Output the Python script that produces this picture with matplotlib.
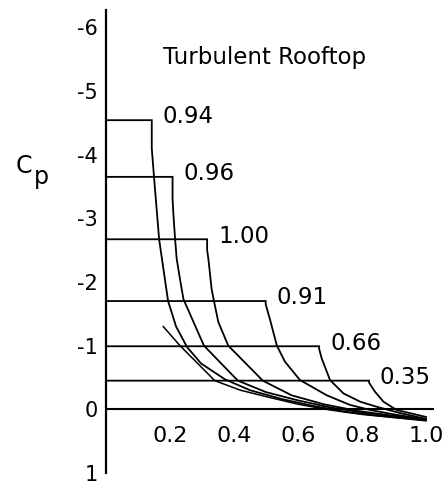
import matplotlib
matplotlib.use("Agg")
import matplotlib.pyplot as plt

# Rooftop pressure distributions (x/c, Cp)
labels = ["0.94", "0.96", "1.00", "0.91", "0.66", "0.35"]

x_094 = [0.0, 0.143, 0.143, 0.150, 0.166, 0.194, 0.219, 0.253, 0.297, 0.372, 0.45, 0.55, 0.65, 0.75, 0.85, 1.0]
cp_094 = [-4.54, -4.54, -4.10, -3.65, -2.67, -1.70, -1.30, -0.98, -0.72, -0.47, -0.30, -0.16, -0.05, 0.04, 0.10, 0.17]

x_096 = [0.0, 0.208, 0.208, 0.211, 0.216, 0.221, 0.231, 0.242, 0.306, 0.412, 0.50, 0.60, 0.70, 0.80, 0.90, 1.0]
cp_096 = [-3.65, -3.65, -3.30, -3.03, -2.67, -2.36, -2.05, -1.73, -1.00, -0.45, -0.27, -0.14, -0.03, 0.05, 0.11, 0.17]

x_100 = [0.0, 0.316, 0.316, 0.320, 0.330, 0.337, 0.351, 0.382, 0.49, 0.58, 0.68, 0.78, 0.88, 1.0]
cp_100 = [-2.67, -2.67, -2.50, -2.36, -1.89, -1.71, -1.37, -1.00, -0.45, -0.22, -0.08, 0.02, 0.09, 0.16]

x_091 = [0.0, 0.499, 0.499, 0.512, 0.534, 0.559, 0.606, 0.690, 0.762, 0.825, 0.90, 1.0]
cp_091 = [-1.70, -1.70, -1.65, -1.42, -1.00, -0.75, -0.46, -0.22, -0.07, 0.01, 0.08, 0.16]

x_066 = [0.0, 0.666, 0.666, 0.674, 0.700, 0.742, 0.794, 0.846, 0.92, 1.0]
cp_066 = [-0.99, -0.99, -0.95, -0.80, -0.46, -0.25, -0.12, -0.04, 0.06, 0.15]

x_035 = [0.0, 0.822, 0.822, 0.840, 0.867, 0.908, 0.95, 1.0]
cp_035 = [-0.45, -0.45, -0.42, -0.28, -0.12, 0.01, 0.06, 0.12]

# recovery-only curve (no rooftop drawn)
x_extra = [0.179, 0.231, 0.34, 0.42, 0.50, 0.60, 0.70, 0.80, 0.90, 1.0]
cp_extra = [-1.30, -1.00, -0.45, -0.30, -0.20, -0.08, 0.01, 0.08, 0.13, 0.18]

curves = [(x_094, cp_094), (x_096, cp_096), (x_100, cp_100),
          (x_091, cp_091), (x_066, cp_066), (x_035, cp_035)]

ytick_vals = [-6, -5, -4, -3, -2, -1, 0, 1]
xtick_vals = [0.2, 0.4, 0.6, 0.8, 1.0]

plt.rcParams["font.family"] = "DejaVu Sans"

fig = plt.figure(figsize=(4.45, 4.84), dpi=100)
ax = fig.add_axes([106 / 445, 11 / 484, 339 / 445, 463 / 484])
ax.set_xlim(0, 339 / 320)
ax.set_ylim(1.0, -6.27)

for side in ["top", "right", "bottom"]:
    ax.spines[side].set_visible(False)
ax.spines["left"].set_linewidth(1.6)
ax.set_xticks([])
ax.set_yticks(ytick_vals)
ax.set_yticklabels([str(v) for v in ytick_vals], fontsize=15)
ax.tick_params(axis="y", length=0, pad=6)

# zero line
ax.plot([0, 1.022], [0, 0], color="black", lw=1.5)

for (xs, cs), lab in zip(curves, labels):
    ax.plot(xs, cs, color="black", lw=1.3, solid_joinstyle="miter")
    ax.text(xs[1] + 0.034, cs[0] - 0.05, lab, fontsize=16.5, ha="left", va="center")
ax.plot(x_extra, cp_extra, color="black", lw=1.1)

for xv in xtick_vals:
    ax.text(xv, 0.42, f"{xv:.1f}", fontsize=16, ha="center", va="center")

ax.text(0.178, -5.53, "Turbulent Rooftop", fontsize=16.5, ha="left", va="center")
fig.text(24 / 445, 1 - 166 / 484, "C", fontsize=17, ha="center", va="center")
fig.text(41 / 445, 1 - 177 / 484, "p", fontsize=17, ha="center", va="center")

fig.savefig("out.png", dpi=100, facecolor="white")
